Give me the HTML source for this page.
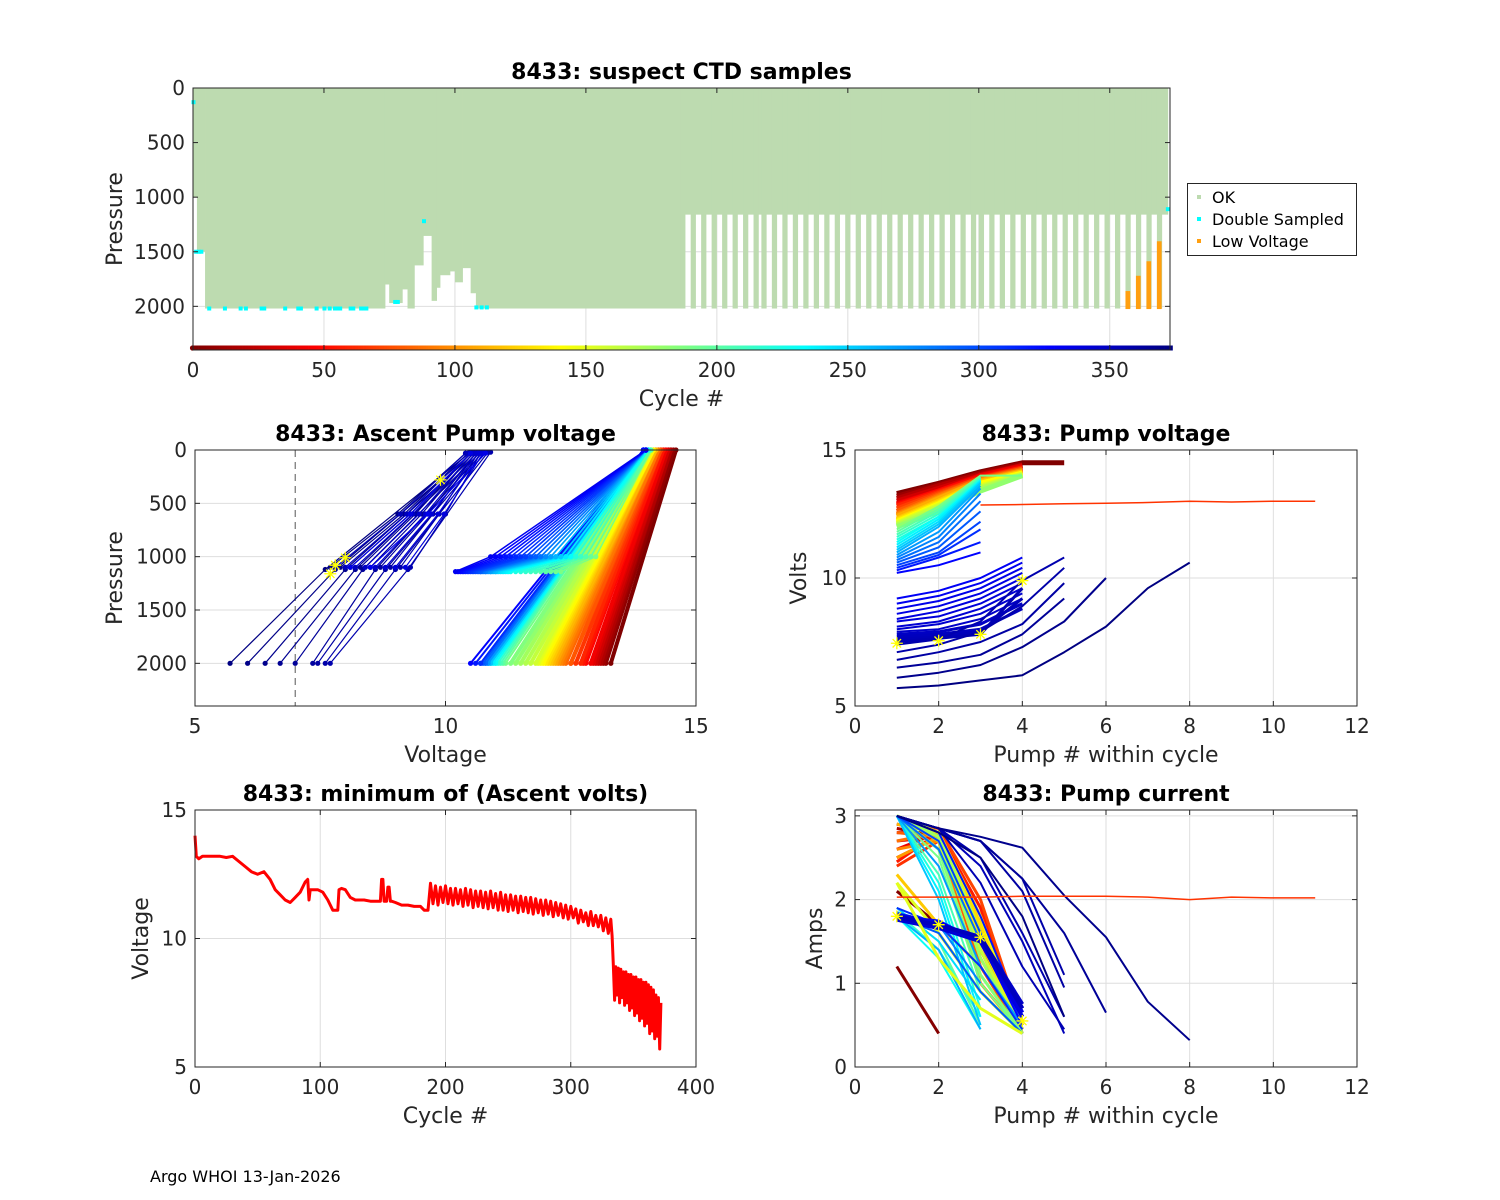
<!DOCTYPE html>
<html><head><meta charset="utf-8"><title>8433 pump diagnostics</title>
<style>
html,body{margin:0;padding:0;background:#fff;}
svg{display:block;font-family:"DejaVu Sans","Liberation Sans",sans-serif;}
</style></head>
<body>
<svg id="fig" width="1500" height="1200" viewBox="0 0 1500 1200" xmlns="http://www.w3.org/2000/svg">
<rect x="0" y="0" width="1500" height="1200" fill="#fff"/>
<text x="150" y="1182" font-size="16" fill="#000">Argo WHOI 13-Jan-2026</text>
</svg>
<script>
// ---------- Top panel data ----------
const topDeepRuns = [[0,1.5,1000],[1.5,4.6,1500],[4.6,73.3,2020],[73.3,74.9,1800],[74.9,79.9,1970],[79.9,81.9,1845],[81.9,84.5,2020],[84.5,87.9,1625],[87.9,91.1,1355],[91.1,93.0,1950],[93.0,94.3,1830],[94.3,98.1,1715],[98.1,100,1680],[100,102.9,1780],[102.9,106,1650],[106,108,1880],[108,187.1,2020]];
const topDeepCycles = [186,190,194,198,202,206,210,214,217,221,225,229,233,237,241,245,249,253,257,261,265,269,273,277,281,285,289,293,297,300,304,308,312,316,320,324,328,332,336,340,344,348,352,356,360,364,368];
const topShallowDepth = [1160];
const topLowVoltCycles = [356,360,364,368];
const topLowVoltTops = [1860,1720,1587,1404];
const cyanCycles = [0,1,2,3,6,12,18,20,26,27,35,40,41,47,50,52,54,55,56,60,61,64,65,66,77,78,88,108,110,112,372];
const cyanPress = [130,1500,1500,1500,2020,2020,2020,2020,2020,2020,2020,2020,2020,2020,2020,2020,2020,2020,2020,2020,2020,2020,2020,2020,1960,1960,1220,2010,2010,2010,1110];
const topXTicks = [0,50,100,150,200,250,300,350];
const topYTicks = [0,500,1000,1500,2000];
const lastCycle = 373;

// ---------- Ascent pump voltage ----------
const deepCyc = [0,6,12,18,24,30,36,42,48,54,60,66,72,78,84,90,96,102,108,114,120,126,132,138,144,150,156,162,168,174,180,186,190,198,206,214,222,230,238,246,254,262,270,278,286,294,302,310,318,326];
const deepV2000 = [13.3,13.2,13.15,13.1,13.05,13.0,12.95,12.9,12.8,12.75,12.7,12.6,12.5,12.5,12.4,12.35,12.3,12.25,12.2,12.15,12.1,12.05,12.0,11.95,11.9,11.85,11.8,11.7,11.6,11.5,11.4,11.3,11.2,11.15,11.1,11.05,11.0,11.0,10.95,10.9,10.9,10.85,10.85,10.8,10.8,10.75,10.7,10.7,10.6,10.5];
const deepV0 = [14.6,14.55,14.5,14.5,14.45,14.45,14.4,14.4,14.35,14.35,14.3,14.3,14.3,14.25,14.25,14.25,14.2,14.2,14.2,14.2,14.15,14.15,14.15,14.15,14.1,14.1,14.1,14.1,14.1,14.05,14.05,14.05,14.05,14.0,14.0,14.0,14.0,14.0,14.0,14.0,14.0,14.0,14.0,13.95,13.95,13.95,13.95,13.95,13.95,13.95];
const shalCyc = [188,192,196,200,204,208,212,216,220,224,228,232,236,240,244,248,252,256,260,264,268,272,276,280,284,288,292,296,300,304,308,312,316,320,324,328,332];
const shalV1100 = [12.3,12.2,12.1,12.0,11.9,11.8,11.7,11.6,11.5,11.4,11.3,11.25,11.2,11.15,11.1,11.05,11.0,11.0,10.95,10.9,10.9,10.85,10.8,10.8,10.75,10.7,10.7,10.65,10.6,10.55,10.5,10.45,10.4,10.35,10.3,10.25,10.2];
const shalVmid = [13.0,12.9,12.9,12.8,12.8,12.7,12.7,12.6,12.6,12.5,12.5,12.5,12.4,12.4,12.3,12.3,12.3,12.2,12.2,12.1,12.1,12.0,12.0,11.9,11.9,11.8,11.8,11.7,11.6,11.6,11.5,11.4,11.3,11.2,11.1,11.0,10.9];
const shalV0 = [14.1,14.1,14.1,14.1,14.05,14.05,14.05,14.05,14.05,14.05,14.05,14.0,14.0,14.0,14.0,14.0,14.0,14.0,14.0,14.0,14.0,14.0,14.0,14.0,14.0,14.0,14.0,14.0,14.0,14.0,14.0,14.0,14.0,14.0,14.0,14.0,14.0];
const lateCyc = [372,370,368,366,364,362,360,358,356];
const lateV2000 = [5.7,6.05,6.4,6.7,7.0,7.35,7.45,7.6,7.7];
const lateV1100 = [7.6,7.8,8.0,8.2,8.35,8.6,8.8,9.0,9.25];
const lateV0 = [10.5,10.55,10.6,10.65,10.7,10.75,10.8,10.85,10.9];
const lateShalCyc = [371,369,367,365,363,361,359,357,355,353,351,349,347,345,343,341,339,337,335];
const lateShalV1100 = [7.7,7.9,8.1,8.3,8.5,8.7,8.9,9.1,9.3,7.8,8.0,8.2,8.4,8.6,8.8,9.0,9.2,8.1,8.5];
const lateShalV0 = [10.4,10.45,10.5,10.5,10.55,10.6,10.6,10.65,10.7,10.4,10.45,10.5,10.55,10.6,10.65,10.7,10.75,10.5,10.8];
const starV = [7.7,7.8,8.0,9.9];
const starP = [1160,1080,1010,280];
const ascXTicks = [5,10,15];
const ascYTicks = [0,500,1000,1500,2000];

// ---------- Pump voltage vs pump # ----------
const pvCyc = [0,10,20,30,40,50,60,70,80,90,100,110,120,130,140,150,160,170,180,190,198,206,214,222,230,238,246,254,262,270,278,286,294,302,310,318,326,330,332,334,336,338,340,342,344,346,348,350,352,354,356,358,360,364,368,372];
const pvVals = [[13.3,13.7,14.15,14.5,14.5],[13.2,13.65,14.1,14.45],[13.1,13.6,14.05,14.4],[13.0,13.5,14.0,14.4],[12.9,13.4,14.0,14.35],[12.85,13.4,13.95,14.3],[12.8,13.35,13.9,14.3],[12.7,13.3,13.9,14.25],[12.6,13.25,13.85,14.25],[12.5,13.2,13.85,14.2],[12.45,13.15,13.8,14.2],[12.4,13.1,13.8,14.15],[12.3,13.0,13.75,14.15],[12.25,12.95,13.7,14.1],[12.2,12.9,13.7,14.1],[12.15,12.85,13.6,14.05],[12.1,12.8,13.55,14.05],[12.05,12.7,13.5,14.0],[12.0,12.6,13.4,14.0],[11.9,12.8,14.0,14.0],[11.8,12.7,13.95],[11.7,12.6,13.9],[11.6,12.5,13.9],[11.5,12.4,13.85],[11.4,12.4,13.8],[11.3,12.3,13.8],[11.2,12.2,13.75],[11.1,12.1,13.7],[11.0,12.0,13.6],[10.9,11.8,13.5],[10.8,11.6,13.3],[10.7,11.4,13.0],[10.6,11.2,12.6],[10.5,11.0,12.2],[10.4,10.9,11.9],[10.3,10.8,11.4],[10.2,10.5,11.0],[9.2,9.5,10.0,10.8],[9.0,9.3,9.8,10.6],[8.8,9.1,9.6,10.4],[8.6,8.9,9.4,10.2],[8.4,8.7,9.2,10.0],[8.3,8.5,9.0,9.8],[8.1,8.3,8.8,9.6],[8.0,8.2,8.6,9.4],[7.9,8.0,8.4,9.2],[7.8,7.9,8.2,9.0],[7.7,7.8,8.0,8.8],[7.6,7.7,7.9,9.2],[7.5,7.65,7.8,9.6],[7.4,7.6,8.3,9.9,10.8],[7.1,7.4,7.9,8.9,10.4],[6.8,7.1,7.5,8.2,9.8],[6.5,6.7,7.0,7.8,9.2],[6.1,6.3,6.6,7.3,8.3,10.0],[5.7,5.8,6.0,6.2,7.1,8.1,9.6,10.6]];
const pvLongCycle = [60];
const pvLongPumps = [3,4,5,6,7,8,9,10,11];
const pvLongVals = [12.85,12.87,12.9,12.92,12.95,13.0,12.97,13.0,13.0];
const pvStarPump = [1,2,3,4];
const pvStarVal = [7.45,7.55,7.8,9.9];
const pvXTicks = [0,2,4,6,8,10,12];
const pvYTicks = [5,10,15];

// ---------- Min ascent volts vs cycle ----------
const minCycles = [0,1,3,6,10,15,20,25,30,35,40,45,50,55,60,64,68,72,76,80,84,88,90,91,92,94,98,102,106,110,114,115,117,120,124,128,135,140,145,148,149,150,151,152,153,154,155,156,157,160,165,170,175,180,183,186,
188,190,192,194,196,198,200,202,204,206,208,210,212,214,216,218,220,222,224,226,228,230,232,234,236,238,240,242,244,246,248,250,252,254,256,258,260,262,264,266,268,270,272,274,276,278,280,282,284,286,288,290,292,294,296,298,300,302,304,306,308,310,312,314,316,318,320,322,324,326,328,330,332,333,
334,335,336,337,338,339,340,341,342,343,344,345,346,347,348,349,350,351,352,353,354,355,356,357,358,359,360,361,362,363,364,365,366,367,368,369,370,371,372];
const minVolts = [14.0,13.2,13.1,13.2,13.2,13.2,13.2,13.15,13.2,13.0,12.8,12.6,12.5,12.6,12.3,11.9,11.7,11.5,11.4,11.6,11.8,12.2,12.3,11.5,11.9,11.9,11.9,11.8,11.5,11.1,11.1,11.9,11.95,11.9,11.6,11.5,11.5,11.45,11.45,11.45,12.3,12.3,11.45,11.45,11.45,12.0,12.0,11.45,11.45,11.4,11.3,11.3,11.25,11.25,11.1,11.1,
12.15,11.35,12.05,11.3,12.0,11.4,12.05,11.35,11.95,11.3,11.95,11.35,11.9,11.25,11.95,11.3,11.9,11.2,11.85,11.25,11.85,11.2,11.8,11.15,11.85,11.2,11.75,11.1,11.8,11.1,11.7,11.05,11.7,11.1,11.65,11.0,11.65,11.05,11.6,11.0,11.6,10.95,11.55,11.0,11.5,10.9,11.5,10.95,11.45,10.85,11.4,10.9,11.35,10.8,11.3,10.75,11.25,10.8,11.15,10.6,11.1,10.65,11.0,10.5,11.05,10.5,10.9,10.45,10.9,10.3,10.8,10.2,10.75,10.1,
9.0,7.6,8.9,7.8,8.85,7.5,8.8,7.7,8.7,7.4,8.7,7.5,8.6,7.2,8.6,7.3,8.5,7.0,8.5,7.1,8.4,6.8,8.4,6.9,8.3,6.6,8.3,6.7,8.2,6.3,8.1,6.4,8.0,6.1,7.8,6.2,7.7,5.7,7.5];
const minXTicks = [0,100,200,300,400];
const minYTicks = [5,10,15];

// ---------- Pump current ----------
const pcCyc = [0,8,16,24,32,40,48,56,64,72,80,88,96,104,112,120,128,136,144,152,160,168,176,184,190,198,206,214,222,230,238,246,254,262,270,278,286,294,302,310,318,326,330,334,338,342,346,350,352,354,356,358,360,364,368,372,2,150];
const pcVals = [[2.1,1.7],[2.9,2.8,1.5,0.45],[2.85,2.75,1.6,0.4],[2.8,2.8,1.7,0.45],[2.7,2.75,1.4,0.4],[2.6,2.8,1.8,0.5],[2.5,2.75,1.5,0.4],[2.45,2.8,1.9,0.45],[2.4,2.7,1.3,0.4],[2.9,2.85,2.0,0.5],[2.8,2.75,1.2,0.4],[2.7,2.8,1.6,0.45],[2.6,2.7,1.0,0.4],[2.5,2.75,1.7,0.5],[2.9,2.8,1.4,0.4],[2.3,1.7,1.2],[3.0,2.8,1.7,0.5],[3.0,2.75,1.5,0.45],[3.0,2.8,1.8,0.5],[2.2,1.6,0.9,0.4],[3.0,2.7,1.4,0.4],[3.0,2.8,1.6,0.45],[3.0,2.75,1.3,0.4],[3.0,2.6,1.1,0.4],[3.0,2.5,1.0,0.4],[1.9,1.5,0.5],[3.0,2.3,0.9,0.4],[1.85,1.4,0.6],[3.0,2.2,0.7,0.4],[1.8,1.3,0.45],[3.0,2.1,0.6],[1.9,1.5,0.8],[3.0,2.0,0.5],[1.8,1.4,0.45],[3.0,2.4,1.2,0.5],[1.85,1.7,1.0],[3.0,2.6,1.5,0.6],[1.8,1.6,0.9,0.4],[3.0,2.7,1.6,0.5],[1.9,1.7,1.2,0.45],[3.0,2.8,1.8,0.6],[1.8,1.75,1.5,0.5],[1.8,1.7,1.55,0.7],[1.78,1.68,1.55,0.65],[1.82,1.72,1.5,0.6],[1.76,1.66,1.5,0.7],[1.8,1.7,1.55,0.75],[1.79,1.69,1.55,0.7],[3.0,2.85,2.4,1.5,0.4],[3.0,2.85,2.2,1.2,0.45],[3.0,2.85,2.5,1.6,0.6],[3.0,2.85,2.7,2.25,1.1],[3.0,2.85,2.7,2.1,0.95],[3.0,2.85,2.7,2.25,1.6,0.65],[3.0,2.85,2.75,2.62,2.05,1.55,0.78,0.32],[3.0,2.8,2.5,1.8,0.6],[1.2,0.4],[2.2,1.3,0.7,0.4]];
const pcLongCycle = [60];
const pcLongPumps = [1,2,3,4,5,6,7,8,9,10,11];
const pcLongVals = [2.03,2.03,2.03,2.04,2.04,2.04,2.03,2.0,2.03,2.02,2.02];
const pcStarPump = [1,2,3,4];
const pcStarVal = [1.8,1.7,1.55,0.55];
const pcXTicks = [0,2,4,6,8,10,12];
const pcYTicks = [0,1,2,3];

// ---------- helpers ----------
const NS = "http://www.w3.org/2000/svg";
const svg = document.getElementById('fig');
function mk(tag, attrs, parent){
  const e = document.createElementNS(NS, tag);
  for (const k in attrs) e.setAttribute(k, attrs[k]);
  (parent||svg).appendChild(e);
  return e;
}
function clamp(v){return Math.max(0,Math.min(1,v));}
function jet(t){
  const r=clamp(1.5-Math.abs(4*t-3)), g=clamp(1.5-Math.abs(4*t-2)), b=clamp(1.5-Math.abs(4*t-1));
  return 'rgb('+Math.round(r*255)+','+Math.round(g*255)+','+Math.round(b*255)+')';
}
function cyc(c){return jet(1 - c/lastCycle);}
function makeAxes(name, x0,y0,w,h, xmin,xmax,ymin,ymax,rev, xt,yt, title, xlabel, ylabel, ylabX){
  const sx = v => x0 + (v-xmin)/(xmax-xmin)*w;
  const sy = rev ? (v => y0 + (v-ymin)/(ymax-ymin)*h) : (v => y0 + h - (v-ymin)/(ymax-ymin)*h);
  const g = mk('g',{});
  
  
  const grid = mk('g',{stroke:'#dedede','stroke-width':1},g);
  
  
  xt.forEach(v=>{ mk('line',{x1:sx(v),x2:sx(v),y1:y0,y2:y0+h},grid); });
  yt.forEach(v=>{ mk('line',{x1:x0,x2:x0+w,y1:sy(v),y2:sy(v)},grid); });
  const plot = mk('g',{},g);
  
  
  const frame = mk('g',{},g);
  return {sx,sy,plot,frame,g,x0,y0,w,h,xt,yt,title,xlabel,ylabel,ylabX,name};
}
function finishAxes(A){
  const {sx,sy,frame,x0,y0,w,h,xt,yt,name} = A;
  const box = mk('rect',{x:x0,y:y0,width:w,height:h,fill:'none',stroke:'#262626','stroke-width':1},frame);
  
  
  xt.forEach(v=>{
    mk('line',{x1:sx(v),x2:sx(v),y1:y0+h,y2:y0+h-5,stroke:'#262626'},frame);
    mk('line',{x1:sx(v),x2:sx(v),y1:y0,y2:y0+5,stroke:'#262626'},frame);
    const t = mk('text',{x:sx(v),y:y0+h+27,'font-size':20,'text-anchor':'middle',fill:'#262626'},frame);
    t.textContent = v;
    
    
  });
  yt.forEach(v=>{
    mk('line',{x1:x0,x2:x0+5,y1:sy(v),y2:sy(v),stroke:'#262626'},frame);
    mk('line',{x1:x0+w,x2:x0+w-5,y1:sy(v),y2:sy(v),stroke:'#262626'},frame);
    const t = mk('text',{x:x0-8,y:sy(v)+7,'font-size':20,'text-anchor':'end',fill:'#262626'},frame);
    t.textContent = v;
    
    
  });
  const tt = mk('text',{x:x0+w/2,y:y0-9,'font-size':22,'font-weight':'bold','text-anchor':'middle',fill:'#000'},frame);
  tt.textContent = A.title;
  
  
  const xl = mk('text',{x:x0+w/2,y:y0+h+56,'font-size':22,'text-anchor':'middle',fill:'#262626'},frame);
  xl.textContent = A.xlabel;
  
  
  const cy = y0+h/2;
  const yl = mk('text',{x:A.ylabX,y:cy,'font-size':22,'text-anchor':'middle',fill:'#262626',transform:'rotate(-90 '+A.ylabX+' '+cy+')'},frame);
  yl.textContent = A.ylabel;
  
  
}
function poly(parent, pts, color, sw, name){
  const p = mk('polyline',{points:pts.map(q=>q[0].toFixed(1)+','+q[1].toFixed(1)).join(' '),fill:'none',stroke:color,'stroke-width':sw,'stroke-linejoin':'round'},parent);
  
  
  return p;
}
function dots(parent, pts, color, r){
  pts.forEach(q=>{ mk('circle',{cx:q[0],cy:q[1],r:r,fill:color},parent); });
}
function star(parent,x,y){
  const s=6;
  mk('path',{d:`M${x-s},${y}L${x+s},${y}M${x},${y-s}L${x},${y+s}M${x-s*0.7},${y-s*0.7}L${x+s*0.7},${y+s*0.7}M${x-s*0.7},${y+s*0.7}L${x+s*0.7},${y-s*0.7}`,stroke:'#ffff00','stroke-width':1.3,fill:'none'},parent);
}

// ---------- Top panel ----------
(function(){
  const A = makeAxes('ctd-samples-panel',193,88,977,262,0,lastCycle,0,2400,true,topXTicks,topYTicks,'8433: suspect CTD samples','Cycle #','Pressure',122);
  const {sx,sy,plot} = A;
  const green = '#bddbb0';
  topDeepRuns.forEach(r=>{
    const el = mk('rect',{x:sx(r[0]),y:sy(0),width:sx(r[1])-sx(r[0])+0.4,height:sy(r[2])-sy(0),fill:green},plot);
    
    
  });
  const sh = mk('rect',{x:sx(187.1),y:sy(0),width:sx(372.3)-sx(187.1),height:sy(topShallowDepth[0])-sy(0),fill:green},plot);
  
  
  topDeepCycles.forEach(c=>{
    const el = mk('rect',{x:sx(c),y:sy(0),width:sx(c+2)-sx(c),height:sy(2020)-sy(0),fill:green},plot);
    
    
  });
  topLowVoltCycles.forEach((c,i)=>{
    const el = mk('rect',{x:sx(c),y:sy(topLowVoltTops[i]),width:sx(c+1.8)-sx(c),height:sy(2025)-sy(topLowVoltTops[i]),fill:'#ff9f10'},plot);
    
    
  });
  cyanCycles.forEach((c,i)=>{
    const el = mk('rect',{x:sx(c)-1.5,y:sy(cyanPress[i])-2,width:4,height:4,fill:'#00ffff'},plot);
    
    
  });
  const band = mk('g',{},plot);
  
  
  for(let c=0;c<=lastCycle;c++){
    mk('rect',{x:sx(c)-0.2,y:345.5,width:3,height:5,fill:cyc(c)},band);
  }
  mk('circle',{cx:sx(0)-0.5,cy:348,r:2.6,fill:cyc(0)},band);
  finishAxes(A);
  const lg = mk('g',{});
  
  
  mk('rect',{x:1187.5,y:183.5,width:169,height:72,fill:'#fff',stroke:'#262626','stroke-width':1},lg);
  const labels=['OK','Double Sampled','Low Voltage'], cols=['#bddbb0','#00ffff','#ff9f10'];
  labels.forEach((l,i)=>{
    const e = mk('g',{},lg);
    
    
    mk('rect',{x:1197,y:195+i*22,width:4,height:4,fill:cols[i]},e);
    const t = mk('text',{x:1212,y:203+i*22,'font-size':16,fill:'#000'},e);
    t.textContent = l;
  });
})();

// ---------- Ascent pump voltage ----------
(function(){
  const A = makeAxes('ascent-pump-voltage-panel',195,450,501,256,5,15,0,2400,true,ascXTicks,ascYTicks,'8433: Ascent Pump voltage','Voltage','Pressure',122);
  const {sx,sy,plot} = A;
  mk('line',{x1:sx(7),x2:sx(7),y1:A.y0,y2:A.y0+A.h,stroke:'#555','stroke-width':1,'stroke-dasharray':'7,5'},plot);
  deepCyc.forEach((c,i)=>{
    const v1000 = (deepV2000[i]+deepV0[i])/2;
    const pts=[[sx(deepV2000[i]),sy(2000)],[sx(v1000),sy(1000)],[sx(deepV0[i]),sy(0)]];
    poly(plot,pts,cyc(c),c<187?4:2,'deep-profile-line');
    dots(plot,[pts[0],pts[2]],cyc(c),2.6);
  });
  shalCyc.forEach((c,i)=>{
    const pts=[[sx(shalV1100[i]),sy(1140)],[sx(shalVmid[i]),sy(1000)],[sx(shalV0[i]),sy(0)]];
    poly(plot,pts,cyc(c),1.5,'shallow-profile-line');
    dots(plot,pts,cyc(c),2.6);
  });
  lateCyc.forEach((c,i)=>{
    const pts=[[sx(lateV2000[i]),sy(2000)],[sx(lateV1100[i]),sy(1120)],[sx(lateV0[i]),sy(20)]];
    poly(plot,pts,cyc(c),1.2,'late-profile-line');
    dots(plot,pts,cyc(c),2.6);
  });
  lateShalCyc.forEach((c,i)=>{
    const pts=[[sx(lateShalV1100[i]),sy(1100)],[sx((lateShalV1100[i]+lateShalV0[i])/2),sy(600)],[sx(lateShalV0[i]),sy(30)]];
    poly(plot,pts,cyc(c),1.2,'late-shallow-profile-line');
    dots(plot,pts,cyc(c),2.6);
  });
  starV.forEach((v,i)=>star(plot,sx(v),sy(starP[i])));
  finishAxes(A);
})();

// ---------- Pump voltage ----------
(function(){
  const A = makeAxes('pump-voltage-panel',855,450,502,256,0,12,5,15,false,pvXTicks,pvYTicks,'8433: Pump voltage','Pump # within cycle','Volts',806);
  const {sx,sy,plot} = A;
  pvCyc.forEach((c,i)=>{
    const pts = pvVals[i].map((v,k)=>[sx(k+1),sy(v)]);
    poly(plot,pts,cyc(c),c<187?5:(c>=348&&c<=354?3:2),'pump-voltage-line');
  });
  poly(plot,pvLongPumps.map((p,k)=>[sx(p),sy(pvLongVals[k])]),'#ff3300',1.5,'pump-voltage-long-line');
  pvStarPump.forEach((p,i)=>star(plot,sx(p),sy(pvStarVal[i])));
  finishAxes(A);
})();

// ---------- Min ascent volts ----------
(function(){
  const A = makeAxes('min-ascent-volts-panel',195,810,501,257,0,400,5,15,false,minXTicks,minYTicks,'8433: minimum of (Ascent volts)','Cycle #','Voltage',148);
  const {sx,sy,plot} = A;
  poly(plot,minCycles.map((c,i)=>[sx(c),sy(minVolts[i])]),'#ff0000',3,'min-volts-line');
  finishAxes(A);
})();

// ---------- Pump current ----------
(function(){
  const A = makeAxes('pump-current-panel',855,810,502,257,0,12,0,3.07,false,pcXTicks,pcYTicks,'8433: Pump current','Pump # within cycle','Amps',822);
  const {sx,sy,plot} = A;
  pcCyc.forEach((c,i)=>{
    const pts = pcVals[i].map((v,k)=>[sx(k+1),sy(v)]);
    poly(plot,pts,cyc(c),c>=330&&c<=350?4:(c<187?3:2),'pump-current-line');
  });
  poly(plot,pcLongPumps.map((p,k)=>[sx(p),sy(pcLongVals[k])]),'#ff3300',1.5,'pump-current-long-line');
  pcStarPump.forEach((p,i)=>star(plot,sx(p),sy(pcStarVal[i])));
  finishAxes(A);
})();
</script>
</body></html>
